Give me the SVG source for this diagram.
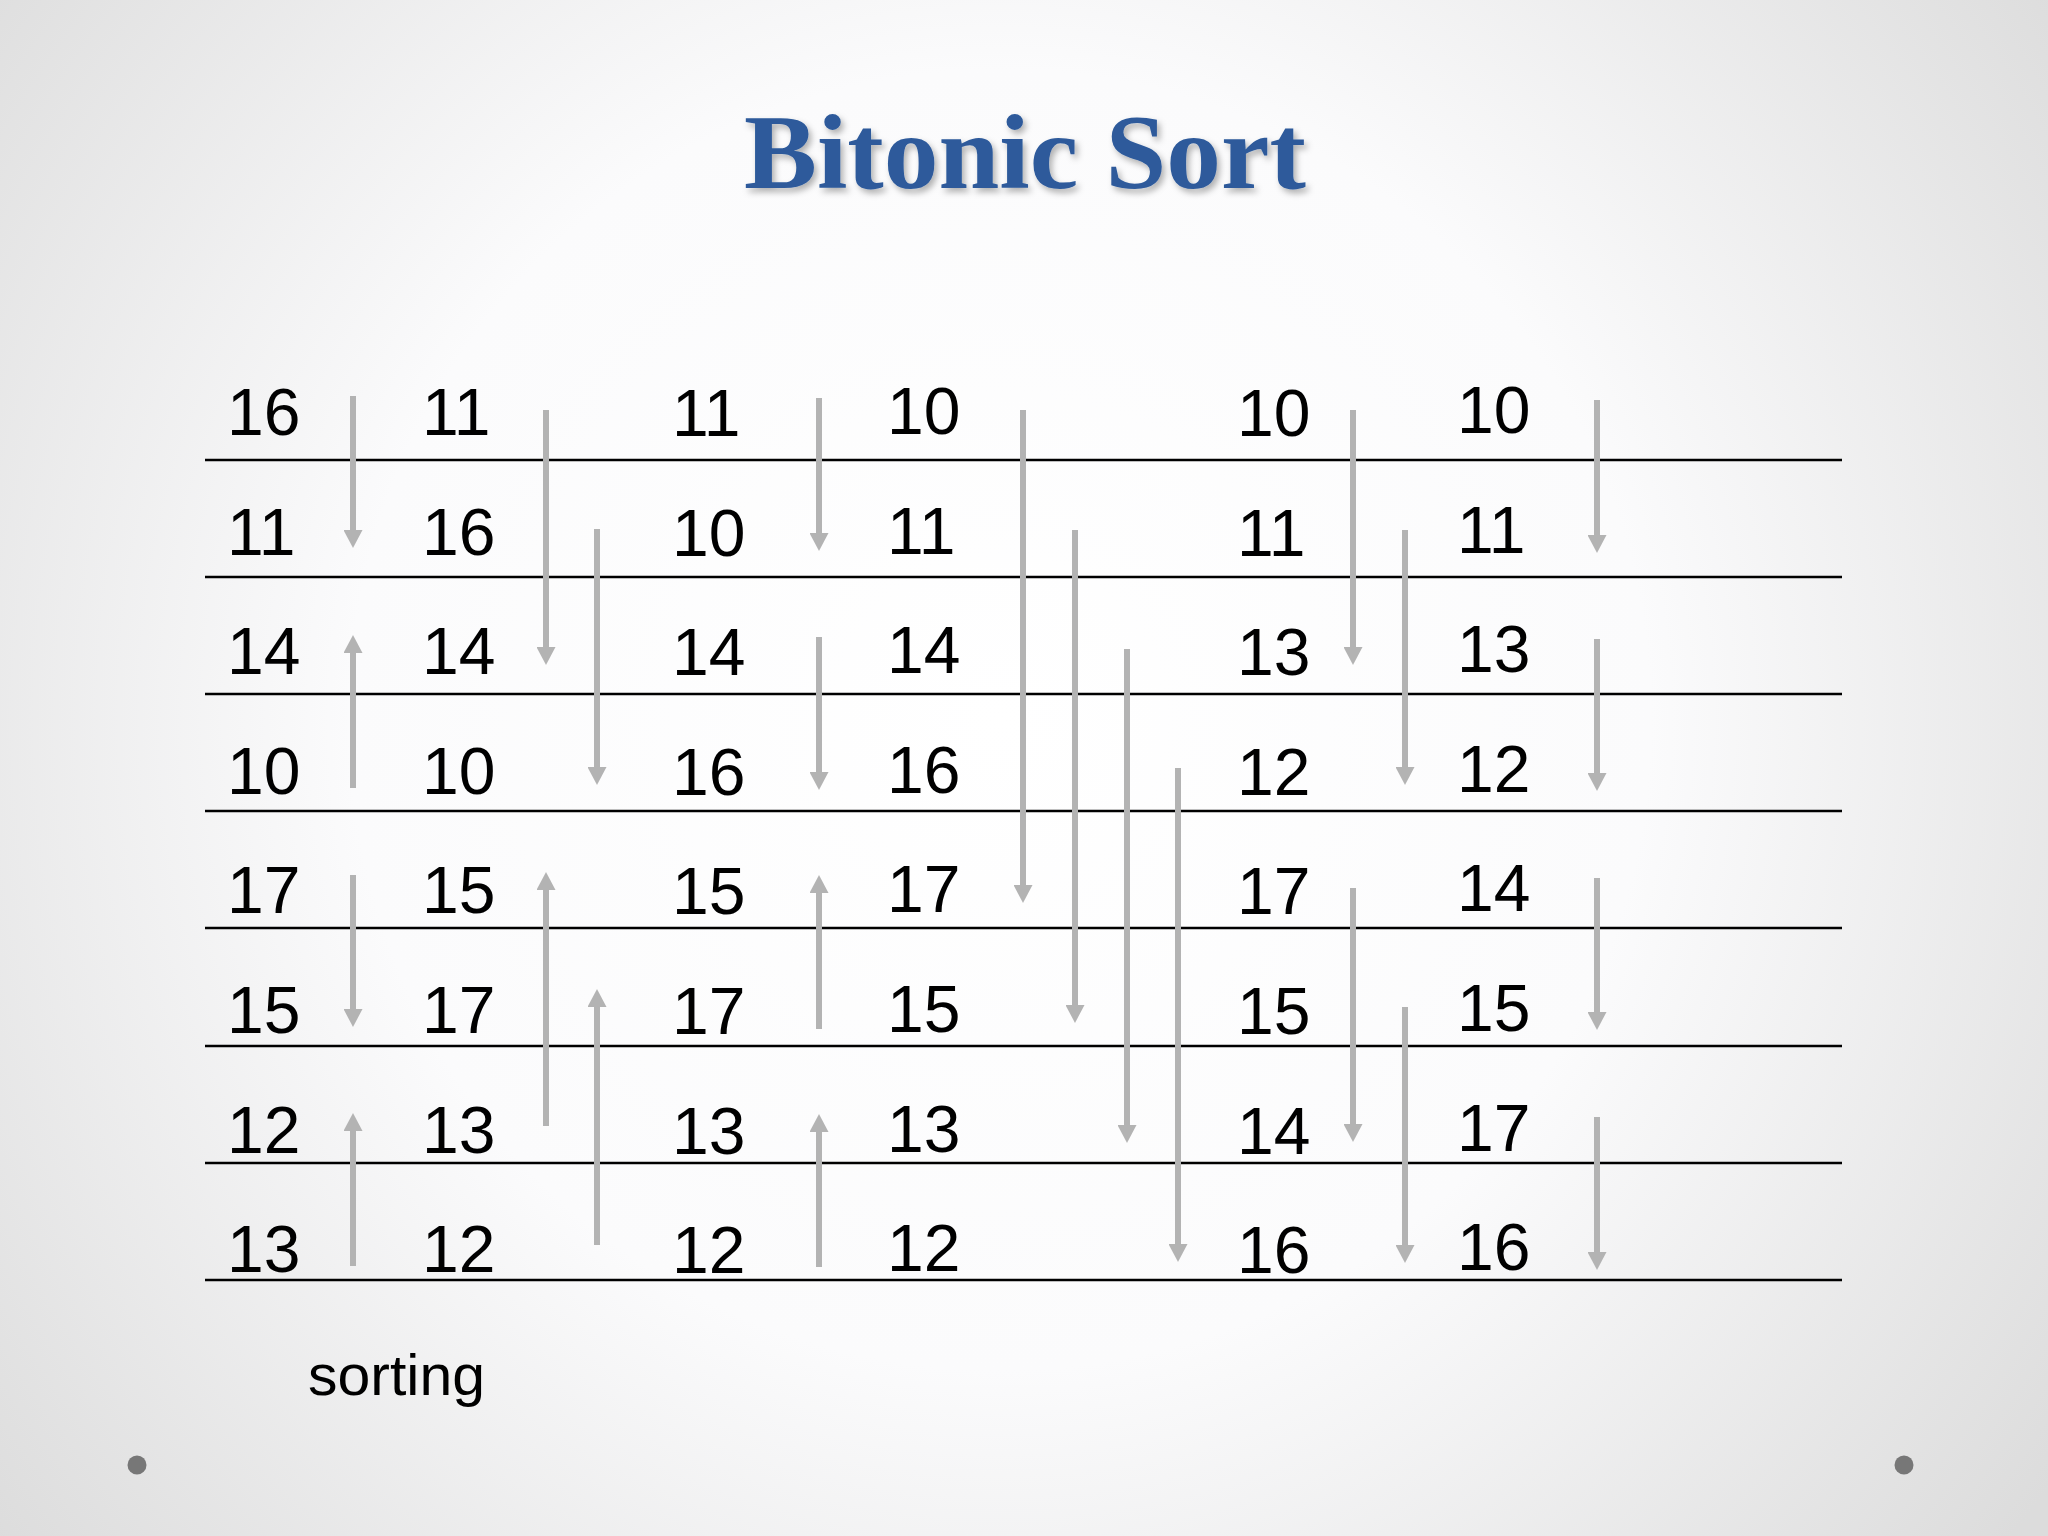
<svg xmlns="http://www.w3.org/2000/svg" width="2048" height="1536" viewBox="0 0 2048 1536">
<defs>
<radialGradient id="bg" cx="1000" cy="720" r="1300" gradientUnits="userSpaceOnUse">
<stop offset="0" stop-color="#ffffff"/>
<stop offset="0.5" stop-color="#fbfbfc"/>
<stop offset="1" stop-color="#dcdcdc"/>
</radialGradient>
<filter id="shadow" x="-10%" y="-20%" width="120%" height="150%">
<feDropShadow dx="3" dy="4" stdDeviation="3" flood-color="#000" flood-opacity="0.3"/>
</filter>
<marker id="head" viewBox="0 0 18 19" markerWidth="18" markerHeight="19" refX="0" refY="9.5" orient="auto" markerUnits="userSpaceOnUse">
<path d="M0,0 L18,9.5 L0,19 z" fill="#b3b3b3"/>
</marker>
<style>
.num{font-family:"Liberation Sans",Arial,sans-serif;font-size:66px;fill:#000}
.row{stroke:#000;stroke-width:2.5}
.arr{stroke:#b3b3b3;stroke-width:6;fill:none;marker-end:url(#head)}
</style>
</defs>
<rect width="2048" height="1536" fill="url(#bg)"/>
<text x="1025" y="188" text-anchor="middle" textLength="562" lengthAdjust="spacingAndGlyphs" font-family="'Liberation Serif','Times New Roman',serif" font-weight="bold" font-size="106" fill="#2d5a9b" filter="url(#shadow)">Bitonic Sort</text>
<g id="rows">
<line class="row" x1="205" y1="460" x2="1842" y2="460"/>
<line class="row" x1="205" y1="577" x2="1842" y2="577"/>
<line class="row" x1="205" y1="694" x2="1842" y2="694"/>
<line class="row" x1="205" y1="811" x2="1842" y2="811"/>
<line class="row" x1="205" y1="928" x2="1842" y2="928"/>
<line class="row" x1="205" y1="1046" x2="1842" y2="1046"/>
<line class="row" x1="205" y1="1163" x2="1842" y2="1163"/>
<line class="row" x1="205" y1="1280" x2="1842" y2="1280"/>
</g>
<g id="col1" class="num">
<text x="227" y="435">16</text><text x="227" y="555">11</text><text x="227" y="674">14</text><text x="227" y="794">10</text>
<text x="227" y="913">17</text><text x="227" y="1033">15</text><text x="227" y="1153">12</text><text x="227" y="1272">13</text>
</g>
<g id="col2" class="num">
<text x="422" y="435">11</text><text x="422" y="555">16</text><text x="422" y="674">14</text><text x="422" y="794">10</text>
<text x="422" y="913">15</text><text x="422" y="1033">17</text><text x="422" y="1153">13</text><text x="422" y="1272">12</text>
</g>
<g id="col3" class="num">
<text x="672" y="436">11</text><text x="672" y="556">10</text><text x="672" y="675">14</text><text x="672" y="795">16</text>
<text x="672" y="914">15</text><text x="672" y="1034">17</text><text x="672" y="1154">13</text><text x="672" y="1273">12</text>
</g>
<g id="col4" class="num">
<text x="887" y="434">10</text><text x="887" y="554">11</text><text x="887" y="673">14</text><text x="887" y="793">16</text>
<text x="887" y="912">17</text><text x="887" y="1032">15</text><text x="887" y="1152">13</text><text x="887" y="1271">12</text>
</g>
<g id="col5" class="num">
<text x="1237" y="436">10</text><text x="1237" y="556">11</text><text x="1237" y="675">13</text><text x="1237" y="795">12</text>
<text x="1237" y="914">17</text><text x="1237" y="1034">15</text><text x="1237" y="1154">14</text><text x="1237" y="1273">16</text>
</g>
<g id="col6" class="num">
<text x="1457" y="433">10</text><text x="1457" y="553">11</text><text x="1457" y="672">13</text><text x="1457" y="792">12</text>
<text x="1457" y="911">14</text><text x="1457" y="1031">15</text><text x="1457" y="1151">17</text><text x="1457" y="1270">16</text>
</g>
<g id="connectors">
<line class="arr" x1="353" y1="396" x2="353" y2="530"/>
<line class="arr" x1="353" y1="788" x2="353" y2="653"/>
<line class="arr" x1="353" y1="875" x2="353" y2="1009"/>
<line class="arr" x1="353" y1="1266" x2="353" y2="1131"/>
<line class="arr" x1="546" y1="410" x2="546" y2="647"/>
<line class="arr" x1="546" y1="1126" x2="546" y2="890"/>
<line class="arr" x1="597" y1="529" x2="597" y2="767"/>
<line class="arr" x1="597" y1="1245" x2="597" y2="1007"/>
<line class="arr" x1="819" y1="398" x2="819" y2="533"/>
<line class="arr" x1="819" y1="637" x2="819" y2="772"/>
<line class="arr" x1="819" y1="1029" x2="819" y2="893"/>
<line class="arr" x1="819" y1="1267" x2="819" y2="1132"/>
<line class="arr" x1="1023" y1="410" x2="1023" y2="885"/>
<line class="arr" x1="1075" y1="530" x2="1075" y2="1005"/>
<line class="arr" x1="1127" y1="649" x2="1127" y2="1125"/>
<line class="arr" x1="1178" y1="768" x2="1178" y2="1244"/>
<line class="arr" x1="1353" y1="410" x2="1353" y2="647"/>
<line class="arr" x1="1353" y1="888" x2="1353" y2="1124"/>
<line class="arr" x1="1405" y1="530" x2="1405" y2="767"/>
<line class="arr" x1="1405" y1="1007" x2="1405" y2="1245"/>
<line class="arr" x1="1597" y1="400" x2="1597" y2="535"/>
<line class="arr" x1="1597" y1="639" x2="1597" y2="773"/>
<line class="arr" x1="1597" y1="878" x2="1597" y2="1012"/>
<line class="arr" x1="1597" y1="1117" x2="1597" y2="1252"/>
</g>
<text x="308" y="1395" textLength="177" lengthAdjust="spacingAndGlyphs" font-family="'Liberation Sans',Arial,sans-serif" font-size="58" fill="#000">sorting</text>
<circle cx="137" cy="1465" r="9.5" fill="#777"/>
<circle cx="1904" cy="1465" r="9.5" fill="#777"/>
</svg>
